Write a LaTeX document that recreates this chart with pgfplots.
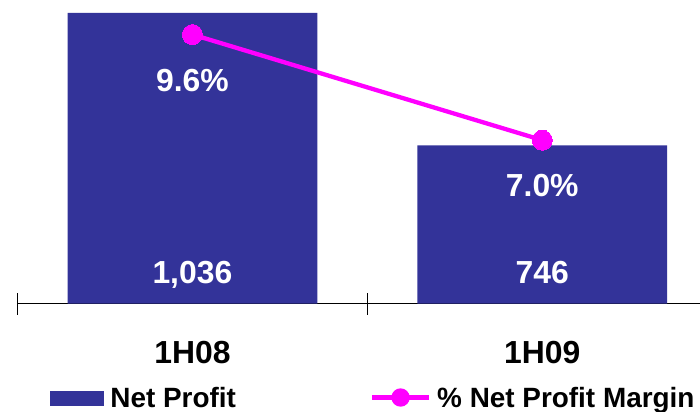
\documentclass[border=0pt]{standalone}
\usepackage{fontspec}
\setmainfont{Liberation Sans}
\usepackage{pgfplots}
\pgfplotsset{compat=1.18}
\definecolor{barblue}{HTML}{333399}
\definecolor{linemag}{HTML}{FF00FF}
\newcommand{\bigf}{\bfseries\fontsize{32}{32}\selectfont}
\newcommand{\legf}{\bfseries\fontsize{28}{28}\selectfont}
\begin{document}
\begin{tikzpicture}[x=1bp,y=1bp]
\useasboundingbox (0,0) rectangle (700,411);
\begin{axis}[
  at={(17.5bp,107.5bp)}, anchor=south west,
  scale only axis, width=682.5bp, height=303.5bp,
  xmin=-0.5, xmax=1.451, ymin=400, ymax=1064,
  axis x line*=bottom, axis y line=none,
  axis line style={-, line width=1.3bp, black},
  xtick={0,1}, xticklabels={1H08,1H09},
  major tick length=0pt,
  minor xtick={-0.5,0.5}, minor tick length=22bp,
  tick align=outside,
  minor tick style={line width=1.3bp, black, yshift=11bp},
  xticklabel style={font=\bigf, anchor=center, yshift=-48.5bp, text depth=0pt},
  ytick=\empty,
  ybar, bar width=0.714, bar shift=0pt,
]
\addplot[fill=barblue, draw=none] coordinates {(0,1036) (1,746)};
\node[text=white, font=\bigf, text depth=0pt] at (axis cs:0,468) {1,036};
\node[text=white, font=\bigf, text depth=0pt] at (axis cs:1,468) {746};
\end{axis}
\begin{axis}[
  at={(17.5bp,107.5bp)}, anchor=south west,
  scale only axis, width=682.5bp, height=303.5bp,
  xmin=-0.5, xmax=1.451, ymin=2.98, ymax=10.45,
  hide axis, clip=false,
  legend columns=2,
  legend style={draw=none, fill=none, at={(0.0476,-0.3114)}, anchor=west,
    inner sep=0pt, outer sep=0pt, column sep=0pt, font=\legf,
    nodes={inner sep=0pt},
    /tikz/every even column/.append style={column sep=134bp}},
]
\addlegendimage{legend image code/.code={\fill[barblue] (0bp,-7.3bp) rectangle (53bp,7bp); \path (60bp,0bp);}}
\addlegendentry{Net Profit}
\addplot[linemag, line width=4.3bp, mark=*, mark size=10bp,
  mark options={fill=linemag, draw=linemag, line width=0pt},
  nodes near coords, point meta=explicit symbolic,
  every node near coord/.style={anchor=center, yshift=-45.5bp, text=white, font=\bigf, text depth=0pt},
  legend image code/.code={\draw[linemag, line width=4.3bp] (0bp,0.5bp) -- (57bp,0.5bp); \fill[linemag] (28.5bp,0.5bp) circle (7bp); \path (63bp,0.5bp);}
] coordinates {(0,9.6) [9.6\%] (1,7.0) [7.0\%]};
\addlegendentry{\% Net Profit Margin}
\end{axis}
\end{tikzpicture}
\end{document}
